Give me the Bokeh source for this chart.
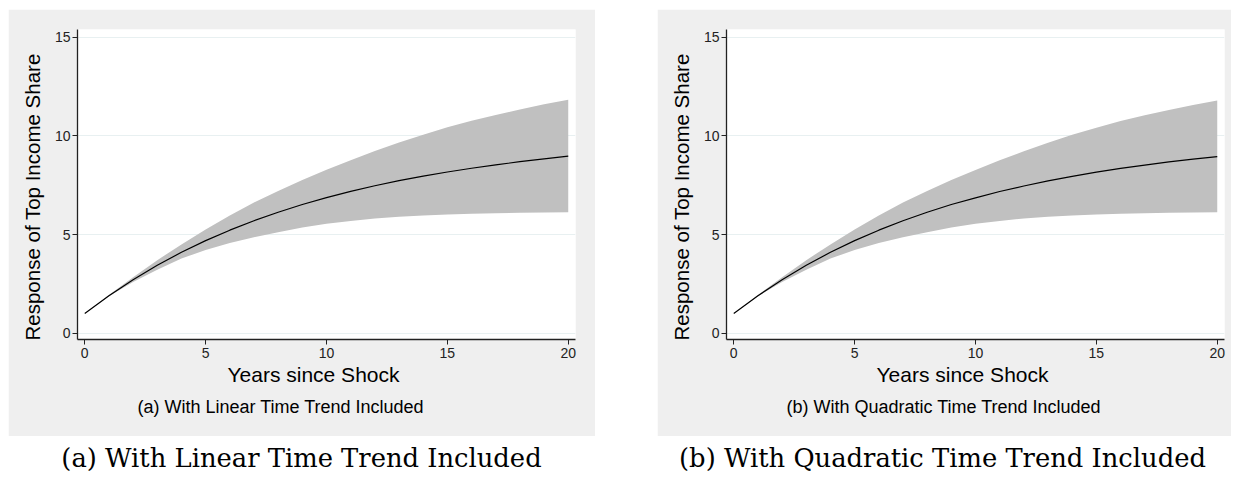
from bokeh.plotting import figure
from bokeh.models import Range1d, Title, FixedTicker, Spacer
from bokeh.layouts import row, column
from bokeh.embed import file_html
from bokeh.resources import INLINE
from bokeh.core.properties import value

# ---------------- data ----------------
years = list(range(21))

irf_a = [1.00, 1.90, 2.71, 3.44, 4.10, 4.69, 5.22, 5.70, 6.13, 6.52, 6.87,
         7.19, 7.47, 7.73, 7.96, 8.17, 8.36, 8.53, 8.69, 8.83, 8.97]
upper_a = [1.00, 1.93, 2.84, 3.70, 4.50, 5.26, 5.97, 6.62, 7.21, 7.76, 8.28,
           8.77, 9.23, 9.66, 10.06, 10.43, 10.77, 11.06, 11.34, 11.60, 11.83]
lower_a = [1.00, 1.87, 2.60, 3.22, 3.78, 4.22, 4.57, 4.86, 5.12, 5.35, 5.54,
           5.69, 5.81, 5.90, 5.96, 6.01, 6.05, 6.08, 6.10, 6.12, 6.13]

irf_b = [1.00, 1.90, 2.71, 3.44, 4.10, 4.69, 5.22, 5.70, 6.13, 6.52, 6.86,
         7.18, 7.46, 7.72, 7.95, 8.16, 8.35, 8.52, 8.68, 8.82, 8.95]
upper_b = [1.00, 1.93, 2.84, 3.70, 4.50, 5.26, 5.97, 6.62, 7.21, 7.76, 8.27,
           8.76, 9.22, 9.65, 10.05, 10.41, 10.75, 11.04, 11.31, 11.57, 11.79]
lower_b = [1.00, 1.87, 2.60, 3.22, 3.78, 4.22, 4.57, 4.86, 5.12, 5.35, 5.54,
           5.69, 5.81, 5.90, 5.96, 6.01, 6.05, 6.08, 6.10, 6.12, 6.13]

x_ticks = [0, 5, 10, 15, 20]
y_ticks = [0, 5, 10, 15]
x_label = "Years since Shock"
y_label = "Response of Top Income Share"
inner_titles = ["(a) With Linear Time Trend Included",
                "(b) With Quadratic Time Trend Included"]
captions = ["(a) With Linear Time Trend Included",
            "(b) With Quadratic Time Trend Included"]

SANS = "Liberation Sans"
SERIF = "DejaVu Serif"
GRAY_BG = "#efefef"


def panel(irf, lo, hi, inner, width, right_border):
    p = figure(width=width, height=427,
               x_range=Range1d(-0.3, 20.3), y_range=Range1d(-0.32, 15.39),
               output_backend="svg", toolbar_location=None,
               min_border_left=69, min_border_right=right_border,
               min_border_top=20, min_border_bottom=97)
    p.title.text = ""
    p.border_fill_color = GRAY_BG
    p.background_fill_color = "white"
    p.outline_line_color = None

    p.varea(x=years, y1=lo, y2=hi, fill_color="#c0c0c0", fill_alpha=1.0)
    p.line(years, irf, line_color="black", line_width=1.2)

    # grid
    p.xgrid.visible = False
    p.ygrid.ticker = FixedTicker(ticks=y_ticks)
    p.ygrid.grid_line_color = "#e8f0f1"
    p.ygrid.grid_line_width = 1

    for ax in (p.xaxis[0], p.yaxis[0]):
        ax.axis_line_color = "#222222"
        ax.axis_line_width = 1.3
        ax.major_tick_line_color = "#222222"
        ax.major_tick_in = 0
        ax.major_tick_out = 5
        ax.minor_tick_line_color = None
        ax.major_label_text_font = SANS
        ax.major_label_text_font_size = "14px"
        ax.major_label_text_color = "#222222"

    p.xaxis.ticker = FixedTicker(ticks=x_ticks)
    p.yaxis.ticker = FixedTicker(ticks=y_ticks)
    p.xaxis.major_label_standoff = 3
    p.yaxis.major_label_standoff = 2

    # axis titles (placed off-centre, as in the reference)
    p.add_layout(Title(text=y_label, align="left", offset=-1,
                       text_font=SANS, text_font_size="20.5px",
                       text_font_style="normal", text_color="black",
                       standoff=16), "left")
    p.add_layout(Title(text=x_label, align="left", offset=150,
                       text_font=SANS, text_font_size="21px",
                       text_font_style="normal", text_color="black",
                       standoff=1), "below")
    p.add_layout(Title(text=inner, align="left", offset=60,
                       text_font=SANS, text_font_size="18px",
                       text_font_style="normal", text_color="black",
                       standoff=16), "below")
    return p


def caption_fig(text, width, cx):
    c = figure(width=width, height=48, x_range=Range1d(0, width),
               y_range=Range1d(0, 48), output_backend="svg",
               toolbar_location=None, x_axis_type=None, y_axis_type=None,
               min_border=0)
    c.title.text = ""
    c.outline_line_color = None
    c.border_fill_color = "white"
    c.background_fill_color = "white"
    c.xgrid.visible = False
    c.ygrid.visible = False
    c.text(x=[cx], y=[27], text=[text], text_align="center",
           text_baseline="middle", text_font=value(SERIF),
           text_font_size="25.8px", text_color="black")
    return c


pa = panel(irf_a, lower_a, upper_a, inner_titles[0], 587, 20)
pb = panel(irf_b, lower_b, upper_b, inner_titles[1], 574, 7)
ca = caption_fig(captions[0], 587, 293)
cb = caption_fig(captions[1], 574, 285)

layout = column(Spacer(height=9),
                row(Spacer(width=8), pa, Spacer(width=62), pb),
                row(Spacer(width=8), ca, Spacer(width=62), cb))

open("out.html", "w").write(file_html(layout, INLINE))
